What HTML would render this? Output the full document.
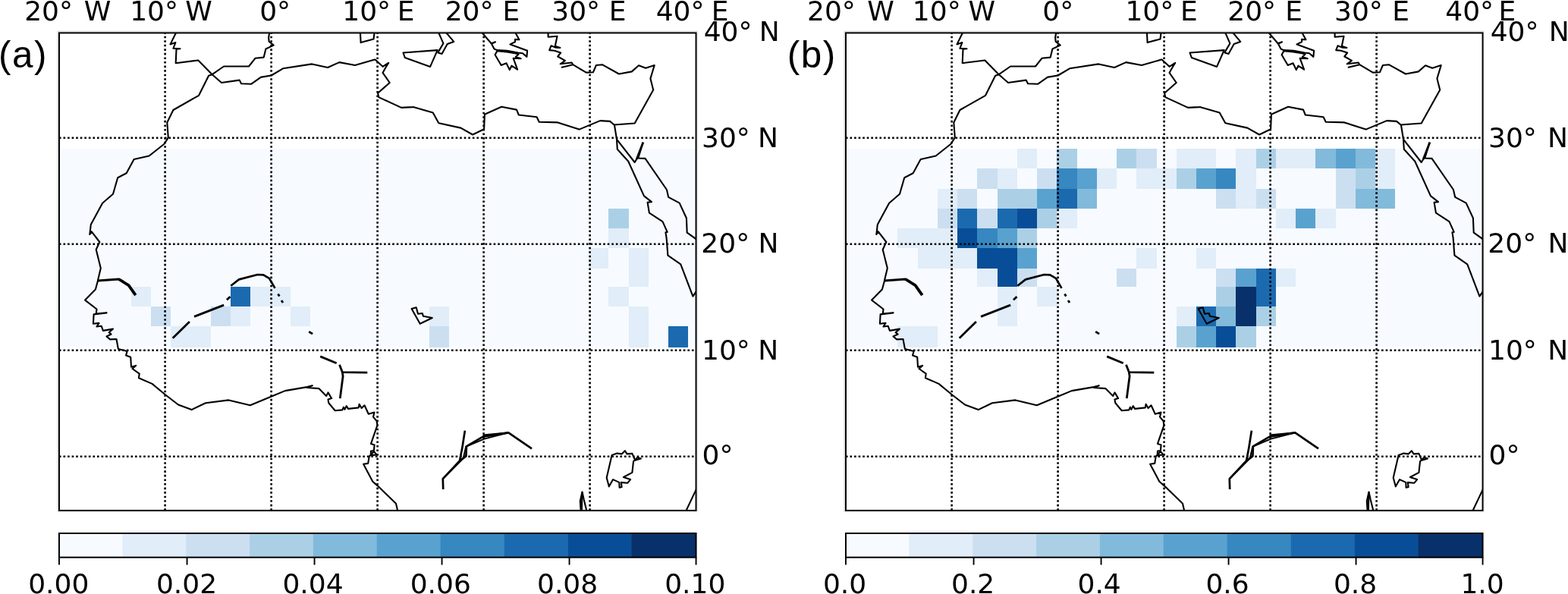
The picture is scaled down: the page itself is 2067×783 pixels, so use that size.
<!DOCTYPE html>
<html lang="en">
<head>
<meta charset="utf-8">
<title>Figure: panels (a) and (b)</title>
<style>
html, body { margin: 0; padding: 0; background: #ffffff; }
body { width: 2067px; height: 783px; overflow: hidden; }
svg { display: block; }
text { fill: #000; white-space: pre; }
</style>
</head>
<body>
<svg width="2067" height="783" viewBox="0 0 2067 783">
<defs>
<clipPath id="clip0"><rect x="77.95" y="43.4" width="839.5999999999999" height="629.5500000000001"/></clipPath>
<clipPath id="clip1037"><rect x="1114.95" y="43.4" width="839.5999999999999" height="629.5500000000001"/></clipPath>
</defs>
<rect x="0" y="0" width="2067" height="783" fill="#ffffff"/>
<g clip-path="url(#clip0)">
<rect x="77.95" y="196.0" width="839.5999999999999" height="262.4" fill="#f7fbff"/>
<g shape-rendering="crispEdges">
<rect x="802.32" y="274.90" width="26.24" height="26.20" fill="#abd0e6"/>
<rect x="802.32" y="301.10" width="26.24" height="26.30" fill="#e1edf8"/>
<rect x="776.08" y="327.40" width="26.24" height="26.20" fill="#e1edf8"/>
<rect x="828.55" y="327.40" width="26.23" height="26.20" fill="#e1edf8"/>
<rect x="828.55" y="353.60" width="26.23" height="24.30" fill="#e1edf8"/>
<rect x="802.32" y="377.90" width="26.24" height="26.30" fill="#e1edf8"/>
<rect x="828.55" y="404.20" width="26.23" height="25.90" fill="#e1edf8"/>
<rect x="828.55" y="430.10" width="26.23" height="28.30" fill="#e1edf8"/>
<rect x="881.02" y="430.10" width="26.24" height="28.30" fill="#1b6aaf"/>
<rect x="566.20" y="404.20" width="26.23" height="25.90" fill="#e1edf8"/>
<rect x="566.20" y="430.10" width="26.23" height="28.30" fill="#cbdff1"/>
<rect x="172.68" y="377.90" width="26.24" height="26.30" fill="#e1edf8"/>
<rect x="303.85" y="377.90" width="26.24" height="26.30" fill="#1b6aaf"/>
<rect x="330.09" y="377.90" width="26.24" height="26.30" fill="#e1edf8"/>
<rect x="356.32" y="377.90" width="26.23" height="26.30" fill="#e1edf8"/>
<rect x="198.91" y="404.20" width="26.24" height="25.90" fill="#cbdff1"/>
<rect x="277.62" y="404.20" width="26.24" height="25.90" fill="#cbdff1"/>
<rect x="303.85" y="404.20" width="26.24" height="25.90" fill="#e1edf8"/>
<rect x="382.56" y="404.20" width="26.24" height="25.90" fill="#e1edf8"/>
<rect x="225.15" y="430.10" width="26.23" height="28.30" fill="#e1edf8"/>
<rect x="251.38" y="430.10" width="26.23" height="28.30" fill="#e1edf8"/>
</g>
<g transform="translate(0,0)" fill="none" stroke="#000" stroke-width="2.1" stroke-linejoin="round" stroke-linecap="butt">
<path d="M232.2 42.8L224.5 58.4L231.4 56.1L228.4 63.8L237.5 64.2L232.5 64.8L231.7 83.2L261.3 79.5L279.7 98.2L292.0 109.0L315.7 105.6L318.0 110.2L331.0 110.8L344.1 101.6L344.6 101.6L357.6 99.5L373.0 90.3L411.3 84.4L432.0 89.0L447.3 82.1L468.0 86.0L494.0 78.6L494.6 78.6L504.5 87.8L512.2 82.9L508.4 89.0L504.5 95.9L513.7 109.0L498.1 122.8L499.2 128.1L529.0 141.9L544.4 141.1L544.6 141.0L570.7 148.4L578.3 162.2L607.4 168.6L623.1 177.5L638.1 170.2L638.9 150.7L661.1 140.7L681.0 144.6L683.8 151.5L707.6 154.2L710.7 160.7L735.2 161.4L763.5 170.6L791.1 159.1L804.1 159.9L809.5 164.5"/>
<path d="M355.3 42.8L354.1 49.2L354.6 54.6L360.7 59.6L350.4 64.5L347.7 75.6L336.4 76.8L328.0 87.5L295.0 87.5L279.7 98.2L275.1 99.8L262.1 125.8L228.4 145.0L220.3 161.5L221.8 181.4L216.5 189.8L196.6 205.5L176.6 210.1L166.7 228.2L155.2 234.3L149.0 255.7L135.1 267.7L119.8 296.0L118.3 309.0L120.6 305.2L131.3 319.0L126.7 329.0L132.8 353.5L129.0 369.6L129.0 370.0L125.9 381.5L112.1 395.6L127.5 407.5L126.7 413.6L140.5 412.4L123.6 414.4L122.9 426.7L130.5 425.9L127.5 430.5L133.6 429.7L135.9 435.9L148.9 433.6L143.6 438.2L146.6 440.5L140.5 443.5L145.1 447.4L153.5 447.0L155.8 459.6L156.1 460.0L167.6 463.0L166.1 468.4L172.2 470.7L173.0 483.7L179.1 481.9L174.5 486.0L183.7 492.6L182.9 498.3L200.5 505.9L218.2 520.5L235.0 533.5L252.6 540.1L271.0 531.2L301.5 527.4L329.8 534.3L357.4 522.8L375.8 515.1L404.9 510.1L411.8 508.2L404.9 511.0L420.3 512.1L430.2 522.0L432.5 517.4L437.1 525.1L432.5 526.6L433.3 531.2L441.7 541.2L451.3 540.4L452.9 536.6L454.4 539.7L456.7 535.1L459.0 538.9L472.8 537.4L473.6 532.8L476.6 538.1L480.5 534.3L485.8 545.8L493.5 543.5L492.0 549.6L496.6 555.0L497.3 559.6L497.5 560.4L489.0 584.9L493.6 586.4L492.9 594.1L489.0 594.5L488.7 600.2L496.7 599.4L492.9 595.2L486.7 601.7L485.2 610.9L479.1 611.7L491.3 634.7L497.5 640.1L522.0 663.8L524.3 673.8"/>
<path d="M474.9 42.8L475.6 56.1L492.5 51.5L493.6 42.8"/>
<path d="M531.5 69.5L576.7 66.1L567.1 87.9L533.8 76.0Z"/>
<path d="M578.2 43.1L584.4 57.2L579.0 66.4L577.5 69.5L582.5 71.0L589.7 58.0L598.2 54.9L588.2 43.1"/>
<path d="M635.4 43.1L647.6 57.2L653.0 55.3L648.0 57.8L651.5 64.5L655.3 66.1L668.3 66.8L682.9 69.5L689.0 70.3L694.4 74.9L695.1 66.8L672.5 58.4L679.0 55.3L679.0 51.9L684.4 52.3L679.4 43.1"/>
<path d="M655.3 67.2L652.6 72.2L660.7 86.0L667.5 83.3L671.8 92.1L674.4 86.7L682.1 91.7L676.7 76.8L686.7 77.2L679.8 74.9L683.6 71.4L679.0 70.3L668.3 68.4Z"/>
<path d="M722.6 43.1L722.6 48.8L734.5 47.7L731.8 60.7L738.4 63.0L732.2 62.6L726.5 60.3L724.2 66.1L730.7 66.8L739.1 69.5L735.3 74.5L744.9 79.8L738.7 84.3L753.7 82.5L755.2 85.2L740.7 88.7L755.2 85.2L772.8 95.6L782.0 95.2L785.9 86.0L793.8 85.2L816.0 97.5L832.8 94.4L842.0 86.3L851.2 89.8L862.7 86.0L857.4 103.6L861.2 118.5L836.7 162.5L809.9 164.5L813.0 183.6L836.7 214.0L839.8 208.9"/>
<path d="M847.5 187.9L841.3 208.5L850.5 208.9L878.9 250.0L881.2 259.9L895.7 267.6L904.9 287.5L905.7 306.7L918.7 315.9"/>
<path d="M847.9 187.5L839.3 209.7" stroke-width="2.8"/>
<path d="M813.0 183.6L813.8 196.7L828.3 212.8L849.0 258.4L859.0 266.1L853.6 266.8L855.9 280.6L873.5 292.1L879.7 305.9L877.4 306.2L878.6 313.6L880.4 336.6L897.3 348.4L913.4 390.6L918.7 382.9"/>
<path d="M903.2 675.8L918.5 643.6"/>
<path d="M806.6 599.9L813.5 597.6L819.6 598.4L823.9 594.2L826.5 598.4L833.4 597.9L837.3 606.8L844.9 604.5L840.3 603.0L835.0 608.3L833.4 622.9L821.9 629.0L831.1 632.1L827.3 636.7L818.9 635.9L819.6 642.0L816.6 642.8L816.3 635.9L808.1 632.1L802.8 641.3L799.7 629.8Z"/>
<path d="M765.7 674.2L764.8 660.4L767.5 648.5L769.8 658.9L773.6 674.2"/>
<path d="M767.5 648.5L766.8 674.2"/>
<path d="M542.6 407.0L548.7 405.3L551.0 413.8L556.8 413.0L557.9 416.8L569.8 419.0L553.7 426.8Z"/>
<path d="M129.0 370.0L156.6 368.0L162.0 371.0" stroke-width="2.8"/>
<path d="M156.6 368.0L169.6 376.1L178.8 389.1" stroke-width="3.8"/>
<path d="M227.7 445.8L249.9 423.9" stroke-width="2.8"/>
<path d="M256.0 417.4L295.1 402.1" stroke-width="2.8"/>
<path d="M298.9 395.2L303.5 391.1" stroke-width="2.8"/>
<path d="M304.3 376.8L315.0 368.4L339.5 362.0L347.2 362.3L354.9 366.9L362.5 379.9" stroke-width="2.7"/>
<path d="M366.4 387.5L368.4 390.6" stroke-width="2.8"/>
<path d="M371.0 396.0L373.0 399.0" stroke-width="2.8"/>
<path d="M407.2 437.3L412.1 440.1" stroke-width="2.8"/>
<path d="M422.2 469.9L443.7 478.8" stroke-width="2.8"/>
<path d="M447.5 480.7L451.3 490.6L484.3 491.1" stroke-width="2.8"/>
<path d="M451.3 490.6L452.1 496.0L448.3 525.1" stroke-width="2.8"/>
<path d="M584.2 645.0L583.8 631.2L606.0 607.4L614.4 601.3L614.9 588.3L636.6 575.6L670.3 570.3L701.0 591.3" stroke-width="2.7"/>
<path d="M612.9 567.6L609.3 590.6L606.0 607.4" stroke-width="2.7"/>
<path d="M636.6 573.4L670.3 570.3L638.2 578.6L615.2 588.3" stroke-width="2.0"/>
<path d="M583.8 631.2L610.6 604.4L614.4 588.3" stroke-width="2.0"/>
</g>
<g stroke="#000" stroke-width="2.6" stroke-dasharray="2.6 2.96" fill="none">
<path d="M217.6 672.95V43.4"/>
<path d="M357.6 672.95V43.4"/>
<path d="M497.6 672.95V43.4"/>
<path d="M637.6 672.95V43.4"/>
<path d="M777.6 672.95V43.4"/>
<path d="M77.95 181.8H917.55"/>
<path d="M77.95 321.8H917.55"/>
<path d="M77.95 461.8H917.55"/>
<path d="M77.95 601.8H917.55"/>
</g>
</g>
<path d="M76.15 674.75H919.35V41.60" fill="none" stroke="#efefef" stroke-width="2"/>
<path d="M76.15 674.75V41.60H919.35" fill="none" stroke="#e2e2e2" stroke-width="2"/>
<rect x="77.95" y="43.40" width="839.60" height="629.55" fill="none" stroke="#000" stroke-width="2"/>
<rect x="77.95" y="703.0" width="83.80" height="31.70" fill="#f7fbff"/>
<rect x="161.35" y="703.0" width="84.25" height="31.70" fill="#e1edf8"/>
<rect x="245.20" y="703.0" width="84.25" height="31.70" fill="#cbdff1"/>
<rect x="329.05" y="703.0" width="84.25" height="31.70" fill="#abd0e6"/>
<rect x="412.90" y="703.0" width="84.25" height="31.70" fill="#82badb"/>
<rect x="496.75" y="703.0" width="84.25" height="31.70" fill="#59a2cf"/>
<rect x="580.60" y="703.0" width="84.25" height="31.70" fill="#3787c0"/>
<rect x="664.45" y="703.0" width="84.25" height="31.70" fill="#1b6aaf"/>
<rect x="748.30" y="703.0" width="84.25" height="31.70" fill="#084d97"/>
<rect x="832.15" y="703.0" width="85.40" height="31.70" fill="#08306b"/>
<rect x="77.95" y="703.0" width="839.60" height="31.70" fill="none" stroke="#000" stroke-width="2"/>
<g stroke="#000" stroke-width="1.9">
<path d="M77.95 734.7v9.9"/>
<path d="M246.55 734.7v9.9"/>
<path d="M414.55 734.7v9.9"/>
<path d="M582.55 734.7v9.9"/>
<path d="M750.55 734.7v9.9"/>
<path d="M917.55 734.7v9.9"/>
</g>
<g clip-path="url(#clip1037)">
<rect x="1114.95" y="196.0" width="839.5999999999999" height="262.4" fill="#f7fbff"/>
<g shape-rendering="crispEdges">
<rect x="1340.85" y="196.00" width="26.24" height="26.30" fill="#e1edf8"/>
<rect x="1393.32" y="196.00" width="26.23" height="26.30" fill="#abd0e6"/>
<rect x="1472.03" y="196.00" width="26.23" height="26.30" fill="#abd0e6"/>
<rect x="1498.26" y="196.00" width="26.24" height="26.30" fill="#cbdff1"/>
<rect x="1550.73" y="196.00" width="26.24" height="26.30" fill="#e1edf8"/>
<rect x="1576.97" y="196.00" width="26.24" height="26.30" fill="#e1edf8"/>
<rect x="1629.43" y="196.00" width="26.24" height="26.30" fill="#e1edf8"/>
<rect x="1655.67" y="196.00" width="26.23" height="26.30" fill="#abd0e6"/>
<rect x="1681.90" y="196.00" width="26.24" height="26.30" fill="#e1edf8"/>
<rect x="1708.14" y="196.00" width="26.24" height="26.30" fill="#e1edf8"/>
<rect x="1734.38" y="196.00" width="26.24" height="26.30" fill="#82badb"/>
<rect x="1760.61" y="196.00" width="26.24" height="26.30" fill="#59a2cf"/>
<rect x="1786.85" y="196.00" width="26.24" height="26.30" fill="#82badb"/>
<rect x="1813.08" y="196.00" width="26.24" height="26.30" fill="#e1edf8"/>
<rect x="1288.38" y="222.30" width="26.23" height="26.30" fill="#cbdff1"/>
<rect x="1314.62" y="222.30" width="26.24" height="26.30" fill="#e1edf8"/>
<rect x="1367.09" y="222.30" width="26.24" height="26.30" fill="#cbdff1"/>
<rect x="1393.32" y="222.30" width="26.23" height="26.30" fill="#3787c0"/>
<rect x="1419.56" y="222.30" width="26.24" height="26.30" fill="#59a2cf"/>
<rect x="1445.79" y="222.30" width="26.24" height="26.30" fill="#e1edf8"/>
<rect x="1498.26" y="222.30" width="26.24" height="26.30" fill="#e1edf8"/>
<rect x="1524.49" y="222.30" width="26.24" height="26.30" fill="#e1edf8"/>
<rect x="1550.73" y="222.30" width="26.24" height="26.30" fill="#abd0e6"/>
<rect x="1576.97" y="222.30" width="26.24" height="26.30" fill="#59a2cf"/>
<rect x="1603.20" y="222.30" width="26.23" height="26.30" fill="#3787c0"/>
<rect x="1629.43" y="222.30" width="26.24" height="26.30" fill="#e1edf8"/>
<rect x="1760.61" y="222.30" width="26.24" height="26.30" fill="#cbdff1"/>
<rect x="1786.85" y="222.30" width="26.24" height="26.30" fill="#abd0e6"/>
<rect x="1813.08" y="222.30" width="26.24" height="26.30" fill="#e1edf8"/>
<rect x="1235.91" y="248.60" width="26.24" height="26.30" fill="#e1edf8"/>
<rect x="1262.14" y="248.60" width="26.23" height="26.30" fill="#cbdff1"/>
<rect x="1314.62" y="248.60" width="26.24" height="26.30" fill="#abd0e6"/>
<rect x="1340.85" y="248.60" width="26.24" height="26.30" fill="#abd0e6"/>
<rect x="1367.09" y="248.60" width="26.24" height="26.30" fill="#59a2cf"/>
<rect x="1393.32" y="248.60" width="26.23" height="26.30" fill="#1b6aaf"/>
<rect x="1419.56" y="248.60" width="26.24" height="26.30" fill="#82badb"/>
<rect x="1603.20" y="248.60" width="26.23" height="26.30" fill="#cbdff1"/>
<rect x="1629.43" y="248.60" width="26.24" height="26.30" fill="#e1edf8"/>
<rect x="1655.67" y="248.60" width="26.23" height="26.30" fill="#cbdff1"/>
<rect x="1760.61" y="248.60" width="26.24" height="26.30" fill="#cbdff1"/>
<rect x="1786.85" y="248.60" width="26.24" height="26.30" fill="#82badb"/>
<rect x="1813.08" y="248.60" width="26.24" height="26.30" fill="#82badb"/>
<rect x="1235.91" y="274.90" width="26.24" height="26.20" fill="#cbdff1"/>
<rect x="1262.14" y="274.90" width="26.23" height="26.20" fill="#1b6aaf"/>
<rect x="1288.38" y="274.90" width="26.23" height="26.20" fill="#cbdff1"/>
<rect x="1314.62" y="274.90" width="26.24" height="26.20" fill="#1b6aaf"/>
<rect x="1340.85" y="274.90" width="26.24" height="26.20" fill="#084d97"/>
<rect x="1367.09" y="274.90" width="26.24" height="26.20" fill="#abd0e6"/>
<rect x="1393.32" y="274.90" width="26.23" height="26.20" fill="#e1edf8"/>
<rect x="1681.90" y="274.90" width="26.24" height="26.20" fill="#e1edf8"/>
<rect x="1708.14" y="274.90" width="26.24" height="26.20" fill="#59a2cf"/>
<rect x="1734.38" y="274.90" width="26.24" height="26.20" fill="#e1edf8"/>
<rect x="1183.44" y="301.10" width="26.23" height="26.30" fill="#e1edf8"/>
<rect x="1209.67" y="301.10" width="26.24" height="26.30" fill="#e1edf8"/>
<rect x="1235.91" y="301.10" width="26.24" height="26.30" fill="#e1edf8"/>
<rect x="1262.14" y="301.10" width="26.23" height="26.30" fill="#084d97"/>
<rect x="1288.38" y="301.10" width="26.23" height="26.30" fill="#3787c0"/>
<rect x="1314.62" y="301.10" width="26.24" height="26.30" fill="#59a2cf"/>
<rect x="1340.85" y="301.10" width="26.24" height="26.30" fill="#abd0e6"/>
<rect x="1209.67" y="327.40" width="26.24" height="26.20" fill="#e1edf8"/>
<rect x="1235.91" y="327.40" width="26.24" height="26.20" fill="#e1edf8"/>
<rect x="1262.14" y="327.40" width="26.23" height="26.20" fill="#e1edf8"/>
<rect x="1288.38" y="327.40" width="26.23" height="26.20" fill="#084d97"/>
<rect x="1314.62" y="327.40" width="26.24" height="26.20" fill="#084d97"/>
<rect x="1340.85" y="327.40" width="26.24" height="26.20" fill="#59a2cf"/>
<rect x="1498.26" y="327.40" width="26.24" height="26.20" fill="#e1edf8"/>
<rect x="1576.97" y="327.40" width="26.24" height="26.20" fill="#e1edf8"/>
<rect x="1288.38" y="353.60" width="26.23" height="24.30" fill="#e1edf8"/>
<rect x="1314.62" y="353.60" width="26.24" height="24.30" fill="#084d97"/>
<rect x="1340.85" y="353.60" width="26.24" height="24.30" fill="#cbdff1"/>
<rect x="1472.03" y="353.60" width="26.23" height="24.30" fill="#cbdff1"/>
<rect x="1603.20" y="353.60" width="26.23" height="24.30" fill="#cbdff1"/>
<rect x="1629.43" y="353.60" width="26.24" height="24.30" fill="#59a2cf"/>
<rect x="1655.67" y="353.60" width="26.23" height="24.30" fill="#1b6aaf"/>
<rect x="1681.90" y="353.60" width="26.24" height="24.30" fill="#e1edf8"/>
<rect x="1314.62" y="377.90" width="26.24" height="26.30" fill="#e1edf8"/>
<rect x="1367.09" y="377.90" width="26.24" height="26.30" fill="#e1edf8"/>
<rect x="1603.20" y="377.90" width="26.23" height="26.30" fill="#abd0e6"/>
<rect x="1629.43" y="377.90" width="26.24" height="26.30" fill="#08306b"/>
<rect x="1655.67" y="377.90" width="26.23" height="26.30" fill="#1b6aaf"/>
<rect x="1314.62" y="404.20" width="26.24" height="25.90" fill="#e1edf8"/>
<rect x="1550.73" y="404.20" width="26.24" height="25.90" fill="#e1edf8"/>
<rect x="1576.97" y="404.20" width="26.24" height="25.90" fill="#1b6aaf"/>
<rect x="1603.20" y="404.20" width="26.23" height="25.90" fill="#82badb"/>
<rect x="1629.43" y="404.20" width="26.24" height="25.90" fill="#08306b"/>
<rect x="1655.67" y="404.20" width="26.23" height="25.90" fill="#abd0e6"/>
<rect x="1183.44" y="430.10" width="26.23" height="28.30" fill="#e1edf8"/>
<rect x="1209.67" y="430.10" width="26.24" height="28.30" fill="#e1edf8"/>
<rect x="1550.73" y="430.10" width="26.24" height="28.30" fill="#abd0e6"/>
<rect x="1576.97" y="430.10" width="26.24" height="28.30" fill="#59a2cf"/>
<rect x="1603.20" y="430.10" width="26.23" height="28.30" fill="#084d97"/>
<rect x="1629.43" y="430.10" width="26.24" height="28.30" fill="#abd0e6"/>
</g>
<g transform="translate(1037.0,0)" fill="none" stroke="#000" stroke-width="2.1" stroke-linejoin="round" stroke-linecap="butt">
<path d="M232.2 42.8L224.5 58.4L231.4 56.1L228.4 63.8L237.5 64.2L232.5 64.8L231.7 83.2L261.3 79.5L279.7 98.2L292.0 109.0L315.7 105.6L318.0 110.2L331.0 110.8L344.1 101.6L344.6 101.6L357.6 99.5L373.0 90.3L411.3 84.4L432.0 89.0L447.3 82.1L468.0 86.0L494.0 78.6L494.6 78.6L504.5 87.8L512.2 82.9L508.4 89.0L504.5 95.9L513.7 109.0L498.1 122.8L499.2 128.1L529.0 141.9L544.4 141.1L544.6 141.0L570.7 148.4L578.3 162.2L607.4 168.6L623.1 177.5L638.1 170.2L638.9 150.7L661.1 140.7L681.0 144.6L683.8 151.5L707.6 154.2L710.7 160.7L735.2 161.4L763.5 170.6L791.1 159.1L804.1 159.9L809.5 164.5"/>
<path d="M355.3 42.8L354.1 49.2L354.6 54.6L360.7 59.6L350.4 64.5L347.7 75.6L336.4 76.8L328.0 87.5L295.0 87.5L279.7 98.2L275.1 99.8L262.1 125.8L228.4 145.0L220.3 161.5L221.8 181.4L216.5 189.8L196.6 205.5L176.6 210.1L166.7 228.2L155.2 234.3L149.0 255.7L135.1 267.7L119.8 296.0L118.3 309.0L120.6 305.2L131.3 319.0L126.7 329.0L132.8 353.5L129.0 369.6L129.0 370.0L125.9 381.5L112.1 395.6L127.5 407.5L126.7 413.6L140.5 412.4L123.6 414.4L122.9 426.7L130.5 425.9L127.5 430.5L133.6 429.7L135.9 435.9L148.9 433.6L143.6 438.2L146.6 440.5L140.5 443.5L145.1 447.4L153.5 447.0L155.8 459.6L156.1 460.0L167.6 463.0L166.1 468.4L172.2 470.7L173.0 483.7L179.1 481.9L174.5 486.0L183.7 492.6L182.9 498.3L200.5 505.9L218.2 520.5L235.0 533.5L252.6 540.1L271.0 531.2L301.5 527.4L329.8 534.3L357.4 522.8L375.8 515.1L404.9 510.1L411.8 508.2L404.9 511.0L420.3 512.1L430.2 522.0L432.5 517.4L437.1 525.1L432.5 526.6L433.3 531.2L441.7 541.2L451.3 540.4L452.9 536.6L454.4 539.7L456.7 535.1L459.0 538.9L472.8 537.4L473.6 532.8L476.6 538.1L480.5 534.3L485.8 545.8L493.5 543.5L492.0 549.6L496.6 555.0L497.3 559.6L497.5 560.4L489.0 584.9L493.6 586.4L492.9 594.1L489.0 594.5L488.7 600.2L496.7 599.4L492.9 595.2L486.7 601.7L485.2 610.9L479.1 611.7L491.3 634.7L497.5 640.1L522.0 663.8L524.3 673.8"/>
<path d="M474.9 42.8L475.6 56.1L492.5 51.5L493.6 42.8"/>
<path d="M531.5 69.5L576.7 66.1L567.1 87.9L533.8 76.0Z"/>
<path d="M578.2 43.1L584.4 57.2L579.0 66.4L577.5 69.5L582.5 71.0L589.7 58.0L598.2 54.9L588.2 43.1"/>
<path d="M635.4 43.1L647.6 57.2L653.0 55.3L648.0 57.8L651.5 64.5L655.3 66.1L668.3 66.8L682.9 69.5L689.0 70.3L694.4 74.9L695.1 66.8L672.5 58.4L679.0 55.3L679.0 51.9L684.4 52.3L679.4 43.1"/>
<path d="M655.3 67.2L652.6 72.2L660.7 86.0L667.5 83.3L671.8 92.1L674.4 86.7L682.1 91.7L676.7 76.8L686.7 77.2L679.8 74.9L683.6 71.4L679.0 70.3L668.3 68.4Z"/>
<path d="M722.6 43.1L722.6 48.8L734.5 47.7L731.8 60.7L738.4 63.0L732.2 62.6L726.5 60.3L724.2 66.1L730.7 66.8L739.1 69.5L735.3 74.5L744.9 79.8L738.7 84.3L753.7 82.5L755.2 85.2L740.7 88.7L755.2 85.2L772.8 95.6L782.0 95.2L785.9 86.0L793.8 85.2L816.0 97.5L832.8 94.4L842.0 86.3L851.2 89.8L862.7 86.0L857.4 103.6L861.2 118.5L836.7 162.5L809.9 164.5L813.0 183.6L836.7 214.0L839.8 208.9"/>
<path d="M847.5 187.9L841.3 208.5L850.5 208.9L878.9 250.0L881.2 259.9L895.7 267.6L904.9 287.5L905.7 306.7L918.7 315.9"/>
<path d="M847.9 187.5L839.3 209.7" stroke-width="2.8"/>
<path d="M813.0 183.6L813.8 196.7L828.3 212.8L849.0 258.4L859.0 266.1L853.6 266.8L855.9 280.6L873.5 292.1L879.7 305.9L877.4 306.2L878.6 313.6L880.4 336.6L897.3 348.4L913.4 390.6L918.7 382.9"/>
<path d="M903.2 675.8L918.5 643.6"/>
<path d="M806.6 599.9L813.5 597.6L819.6 598.4L823.9 594.2L826.5 598.4L833.4 597.9L837.3 606.8L844.9 604.5L840.3 603.0L835.0 608.3L833.4 622.9L821.9 629.0L831.1 632.1L827.3 636.7L818.9 635.9L819.6 642.0L816.6 642.8L816.3 635.9L808.1 632.1L802.8 641.3L799.7 629.8Z"/>
<path d="M765.7 674.2L764.8 660.4L767.5 648.5L769.8 658.9L773.6 674.2"/>
<path d="M767.5 648.5L766.8 674.2"/>
<path d="M542.6 407.0L548.7 405.3L551.0 413.8L556.8 413.0L557.9 416.8L569.8 419.0L553.7 426.8Z"/>
<path d="M129.0 370.0L156.6 368.0L162.0 371.0" stroke-width="2.8"/>
<path d="M156.6 368.0L169.6 376.1L178.8 389.1" stroke-width="3.8"/>
<path d="M227.7 445.8L249.9 423.9" stroke-width="2.8"/>
<path d="M256.0 417.4L295.1 402.1" stroke-width="2.8"/>
<path d="M298.9 395.2L303.5 391.1" stroke-width="2.8"/>
<path d="M304.3 376.8L315.0 368.4L339.5 362.0L347.2 362.3L354.9 366.9L362.5 379.9" stroke-width="2.7"/>
<path d="M366.4 387.5L368.4 390.6" stroke-width="2.8"/>
<path d="M371.0 396.0L373.0 399.0" stroke-width="2.8"/>
<path d="M407.2 437.3L412.1 440.1" stroke-width="2.8"/>
<path d="M422.2 469.9L443.7 478.8" stroke-width="2.8"/>
<path d="M447.5 480.7L451.3 490.6L484.3 491.1" stroke-width="2.8"/>
<path d="M451.3 490.6L452.1 496.0L448.3 525.1" stroke-width="2.8"/>
<path d="M584.2 645.0L583.8 631.2L606.0 607.4L614.4 601.3L614.9 588.3L636.6 575.6L670.3 570.3L701.0 591.3" stroke-width="2.7"/>
<path d="M612.9 567.6L609.3 590.6L606.0 607.4" stroke-width="2.7"/>
<path d="M636.6 573.4L670.3 570.3L638.2 578.6L615.2 588.3" stroke-width="2.0"/>
<path d="M583.8 631.2L610.6 604.4L614.4 588.3" stroke-width="2.0"/>
</g>
<g stroke="#000" stroke-width="2.6" stroke-dasharray="2.6 2.96" fill="none">
<path d="M1254.6 672.95V43.4"/>
<path d="M1394.6 672.95V43.4"/>
<path d="M1534.6 672.95V43.4"/>
<path d="M1674.6 672.95V43.4"/>
<path d="M1814.6 672.95V43.4"/>
<path d="M1114.95 181.8H1954.55"/>
<path d="M1114.95 321.8H1954.55"/>
<path d="M1114.95 461.8H1954.55"/>
<path d="M1114.95 601.8H1954.55"/>
</g>
</g>
<path d="M1113.15 674.75H1956.35V41.60" fill="none" stroke="#efefef" stroke-width="2"/>
<path d="M1113.15 674.75V41.60H1956.35" fill="none" stroke="#e2e2e2" stroke-width="2"/>
<rect x="1114.95" y="43.40" width="839.60" height="629.55" fill="none" stroke="#000" stroke-width="2"/>
<rect x="1114.95" y="703.0" width="83.80" height="31.70" fill="#f7fbff"/>
<rect x="1198.35" y="703.0" width="84.25" height="31.70" fill="#e1edf8"/>
<rect x="1282.20" y="703.0" width="84.25" height="31.70" fill="#cbdff1"/>
<rect x="1366.05" y="703.0" width="84.25" height="31.70" fill="#abd0e6"/>
<rect x="1449.90" y="703.0" width="84.25" height="31.70" fill="#82badb"/>
<rect x="1533.75" y="703.0" width="84.25" height="31.70" fill="#59a2cf"/>
<rect x="1617.60" y="703.0" width="84.25" height="31.70" fill="#3787c0"/>
<rect x="1701.45" y="703.0" width="84.25" height="31.70" fill="#1b6aaf"/>
<rect x="1785.30" y="703.0" width="84.25" height="31.70" fill="#084d97"/>
<rect x="1869.15" y="703.0" width="85.40" height="31.70" fill="#08306b"/>
<rect x="1114.95" y="703.0" width="839.60" height="31.70" fill="none" stroke="#000" stroke-width="2"/>
<g stroke="#000" stroke-width="1.9">
<path d="M1114.95 734.7v9.9"/>
<path d="M1283.55 734.7v9.9"/>
<path d="M1451.55 734.7v9.9"/>
<path d="M1619.55 734.7v9.9"/>
<path d="M1787.55 734.7v9.9"/>
<path d="M1954.55 734.7v9.9"/>
</g>
<g>
<text x="32.16" y="26.60" font-size="36" font-family="'DejaVu Sans', 'Liberation Sans', sans-serif" word-spacing="3.27">20° W</text>
<text x="171.14" y="26.60" font-size="36" font-family="'DejaVu Sans', 'Liberation Sans', sans-serif" word-spacing="-2.11">10° W</text>
<text x="342.13" y="26.60" font-size="36" font-family="'DejaVu Sans', 'Liberation Sans', sans-serif">0°</text>
<text x="451.24" y="26.60" font-size="36" font-family="'DejaVu Sans', 'Liberation Sans', sans-serif" word-spacing="-2.74">10° E</text>
<text x="586.66" y="26.60" font-size="36" font-family="'DejaVu Sans', 'Liberation Sans', sans-serif" word-spacing="0.54">20° E</text>
<text x="727.26" y="26.60" font-size="36" font-family="'DejaVu Sans', 'Liberation Sans', sans-serif" word-spacing="0.35">30° E</text>
<text x="864.64" y="26.60" font-size="36" font-family="'DejaVu Sans', 'Liberation Sans', sans-serif" word-spacing="-2.04">40° E</text>
<text x="1064.06" y="26.60" font-size="36" font-family="'DejaVu Sans', 'Liberation Sans', sans-serif" word-spacing="4.07">20° W</text>
<text x="1202.84" y="26.60" font-size="36" font-family="'DejaVu Sans', 'Liberation Sans', sans-serif" word-spacing="-1.61">10° W</text>
<text x="1374.33" y="26.60" font-size="36" font-family="'DejaVu Sans', 'Liberation Sans', sans-serif">0°</text>
<text x="1483.44" y="26.60" font-size="36" font-family="'DejaVu Sans', 'Liberation Sans', sans-serif" word-spacing="-2.74">10° E</text>
<text x="1618.26" y="26.60" font-size="36" font-family="'DejaVu Sans', 'Liberation Sans', sans-serif" word-spacing="0.84">20° E</text>
<text x="1759.06" y="26.60" font-size="36" font-family="'DejaVu Sans', 'Liberation Sans', sans-serif" word-spacing="0.95">30° E</text>
<text x="1905.24" y="26.60" font-size="36" font-family="'DejaVu Sans', 'Liberation Sans', sans-serif" word-spacing="-4.94">40° E</text>
<text x="927.64" y="53.50" font-size="36" font-family="'DejaVu Sans', 'Liberation Sans', sans-serif" word-spacing="-2.09">40° N</text>
<text x="1964.64" y="53.50" font-size="36" font-family="'DejaVu Sans', 'Liberation Sans', sans-serif" word-spacing="1.91">40° N</text>
<text x="925.06" y="193.90" font-size="36" font-family="'DejaVu Sans', 'Liberation Sans', sans-serif" word-spacing="-1.31">30° N</text>
<text x="1962.06" y="193.90" font-size="36" font-family="'DejaVu Sans', 'Liberation Sans', sans-serif" word-spacing="2.69">30° N</text>
<text x="924.36" y="333.20" font-size="36" font-family="'DejaVu Sans', 'Liberation Sans', sans-serif" word-spacing="-0.11">20° N</text>
<text x="1961.36" y="333.20" font-size="36" font-family="'DejaVu Sans', 'Liberation Sans', sans-serif" word-spacing="3.89">20° N</text>
<text x="925.04" y="473.80" font-size="36" font-family="'DejaVu Sans', 'Liberation Sans', sans-serif" word-spacing="-0.99">10° N</text>
<text x="1962.04" y="473.80" font-size="36" font-family="'DejaVu Sans', 'Liberation Sans', sans-serif" word-spacing="3.01">10° N</text>
<text x="925.53" y="612.20" font-size="36" font-family="'DejaVu Sans', 'Liberation Sans', sans-serif">0°</text>
<text x="1962.53" y="612.20" font-size="36" font-family="'DejaVu Sans', 'Liberation Sans', sans-serif">0°</text>
<text x="37.13" y="782.00" font-size="36" font-family="'DejaVu Sans', 'Liberation Sans', sans-serif">0.00</text>
<text x="205.93" y="782.00" font-size="36" font-family="'DejaVu Sans', 'Liberation Sans', sans-serif">0.02</text>
<text x="372.43" y="782.00" font-size="36" font-family="'DejaVu Sans', 'Liberation Sans', sans-serif">0.04</text>
<text x="540.73" y="782.00" font-size="36" font-family="'DejaVu Sans', 'Liberation Sans', sans-serif">0.06</text>
<text x="708.03" y="782.00" font-size="36" font-family="'DejaVu Sans', 'Liberation Sans', sans-serif">0.08</text>
<text x="876.13" y="782.00" font-size="36" font-family="'DejaVu Sans', 'Liberation Sans', sans-serif">0.10</text>
<text x="1084.93" y="782.00" font-size="36" font-family="'DejaVu Sans', 'Liberation Sans', sans-serif">0.0</text>
<text x="1254.03" y="782.00" font-size="36" font-family="'DejaVu Sans', 'Liberation Sans', sans-serif">0.2</text>
<text x="1420.53" y="782.00" font-size="36" font-family="'DejaVu Sans', 'Liberation Sans', sans-serif">0.4</text>
<text x="1589.43" y="782.00" font-size="36" font-family="'DejaVu Sans', 'Liberation Sans', sans-serif">0.6</text>
<text x="1757.93" y="782.00" font-size="36" font-family="'DejaVu Sans', 'Liberation Sans', sans-serif">0.8</text>
<text x="1925.44" y="782.00" font-size="36" font-family="'DejaVu Sans', 'Liberation Sans', sans-serif">1.0</text>
<text x="-2.00" y="89.00" font-size="49.4" font-family="'Liberation Sans', 'Liberation Sans', sans-serif" letter-spacing="1.5">(a)</text>
<text x="1037.80" y="89.00" font-size="49.4" font-family="'Liberation Sans', 'Liberation Sans', sans-serif" letter-spacing="1.5">(b)</text>
</g>
</svg>
</body>
</html>
